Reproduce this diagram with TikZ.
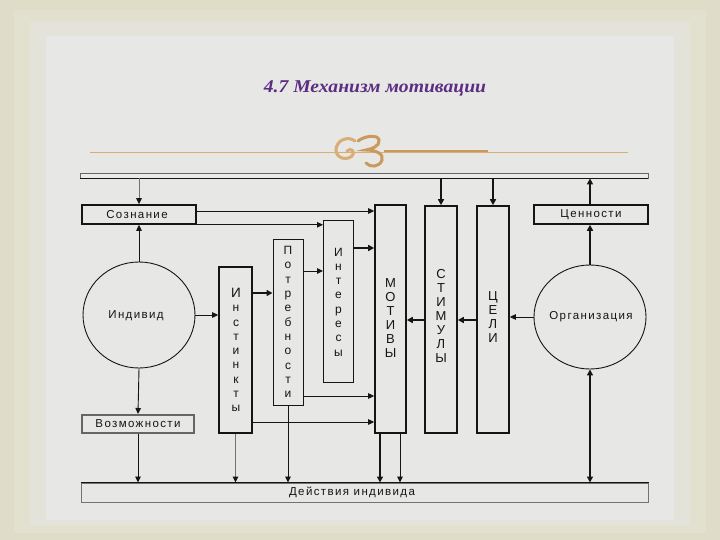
\documentclass[tikz,border=0pt]{standalone}
\usepackage{fontspec}
\setmainfont{Liberation Serif}
\newfontfamily\dfont[LetterSpace=12]{Liberation Sans}
\newfontfamily\sfont{Liberation Sans}
\usetikzlibrary{arrows.meta,shapes.geometric}
\definecolor{bgA}{HTML}{DFDCC8}
\definecolor{bgB}{HTML}{E2E0CF}
\definecolor{bgC}{HTML}{E4E3D9}
\definecolor{bgD}{HTML}{E7E7E5}
\definecolor{ttl}{HTML}{5C2D82}
\definecolor{gold}{HTML}{D8AE74}
\definecolor{golddk}{HTML}{C99A5C}
\definecolor{ink}{HTML}{151515}
\tikzset{
  box/.style={draw=ink, line width=1.6pt, inner sep=0pt, rectangle},
  thinbox/.style={draw=ink, line width=1pt, inner sep=0pt, rectangle},
  oval/.style={draw=ink, line width=0.9pt, ellipse, inner sep=0pt},
  lbl/.style={font=\dfont\fontsize{11.5}{13}\selectfont, text=ink, inner sep=0pt},
  stk/.style={font=\dfont\fontsize{12}{14.3}\selectfont, align=center, text=ink, inner sep=0pt},
  stkU/.style={font=\sfont\fontsize{13}{13.9}\selectfont, align=center, text=ink, inner sep=0pt},
  arr/.style={draw=ink, line width=0.9pt, -{Triangle[length=6pt,width=5.5pt]}},
  garr/.style={draw=black!55, line width=1pt, -{Triangle[length=6pt,width=5.5pt,color=ink]}},
  tarr/.style={draw=ink, line width=2pt, -{Triangle[length=6pt,width=6pt]}},
  barr/.style={draw=ink, line width=1.6pt, -{Triangle[length=6pt,width=6pt]}},
  dbl/.style={draw=ink, line width=1.4pt, {Triangle[length=6pt,width=6pt]}-{Triangle[length=6pt,width=6pt]}}
}
\begin{document}
\begin{tikzpicture}[x=1pt,y=-1pt]
\useasboundingbox (0,0) rectangle (720,540);
% background frame
\fill[bgA] (0,0) rectangle (720,540);
\fill[bgB] (14,10) rectangle (706,533);
\fill[bgC] (30,22) rectangle (690,526);
\fill[bgD] (46,36) rectangle (674,520);
% title
\node[font=\itshape\bfseries\fontsize{18}{20}\selectfont, text=ttl, inner sep=0pt] (title) at (375,88) {\scalebox{1.09}[1]{4.7 Механизм мотивации}};
% ornament line
\draw[gold, line width=0.8pt] (90,152.5) -- (628,152.5);
\draw[golddk, line width=1.6pt] (384,151) -- (488,151);
\draw[gold, line width=3pt, line cap=round]
  (355,141) .. controls (347,135) and (336,141) .. (336,150)
  .. controls (336,158) and (346,161) .. (352,156)
  .. controls (356,152) and (351,147) .. (347,151);
\draw[golddk, line width=3pt, line cap=round]
  (358,141) .. controls (364,136) and (378,134) .. (379,140)
  .. controls (380,146) and (372,149) .. (366,150)
  .. controls (376,150) and (384,154) .. (382,160)
  .. controls (380,167) and (370,168) .. (366,163);
% bars
\node[draw=black!60, fill=black!8, line width=0.8pt, minimum width=568pt, minimum height=5pt, inner sep=0pt] (tb) at (364,175.5) {};
\draw[ink, line width=1pt] (tb.south west) -- (tb.south east);
\node[draw=black!55, line width=1pt, minimum width=567pt, minimum height=19pt, inner sep=0pt] (bb) at (364.5,492.5) {};
\draw[ink, line width=1.8pt] (bb.north west) -- (bb.north east);
% left boxes
\node[box, minimum width=114pt, minimum height=19pt] (soz) at (139,214.5) {};
\node[lbl] at (137,214.5) {Сознание};
\node[oval, minimum width=112pt, minimum height=106pt] (ind) at (139,315) {};
\node[lbl] at (136,316) {Индивид};
\node[draw=black!60, line width=2pt, minimum width=112pt, minimum height=18pt, inner sep=0pt] (voz) at (138,424) {};
\node[lbl] at (138,424) {Возможности};
% columns
\node[box, minimum width=33pt, minimum height=166pt] (inst) at (235.5,350) {};
\node[stk] at (236,350) {{\fontsize{13.5}{14.3}\selectfont И}\\н\\с\\т\\и\\н\\к\\т\\ы};
\node[thinbox, minimum width=30pt, minimum height=166pt] (potr) at (288,322) {};
\node[stk] at (288,322) {П\\о\\т\\р\\е\\б\\н\\о\\с\\т\\и};
\node[thinbox, minimum width=30pt, minimum height=161pt] (inter) at (338.5,301.5) {};
\node[stk] at (338.5,302) {И\\н\\т\\е\\р\\е\\с\\ы};
\node[box, minimum width=31pt, minimum height=228pt] (mot) at (390.5,319) {};
\node[stkU] at (390.5,318) {М\\О\\Т\\И\\В\\Ы};
\node[box, minimum width=32pt, minimum height=227pt] (stim) at (441,319.5) {};
\node[stkU] at (441,316) {С\\Т\\И\\М\\У\\Л\\Ы};
\node[box, minimum width=32pt, minimum height=227pt] (celi) at (493,319.5) {};
\node[stkU] at (493,317) {Ц\\Е\\Л\\И};
% right side
\node[box, minimum width=114pt, minimum height=19pt] (cen) at (591,214.5) {};
\node[lbl] at (591,214.5) {Ценности};
\node[oval, minimum width=112pt, minimum height=104pt] (org) at (590,317) {};
\node[lbl] at (591,317) {Организация};
\node[lbl] at (352,492.5) {Действия индивида};
% connectors
\draw[garr] (tb.south -| soz.north) -- (soz.north);
\draw[arr] (soz.east |- 0,211) -- (mot.west |- 0,211);
\draw[arr] (soz.south east) -- (inter.west |- soz.south east);
\draw[arr] (ind.north) -- (soz.south);
\draw[arr] (ind.south) -- (voz.north);
\draw[arr] (voz.south) -- (bb.north -| voz.south);
\draw[arr] (ind.east) -- (inst.west |- ind.east);
\draw[tarr] (inst.east |- 0,293) -- (potr.west |- 0,293);
\draw[arr] (potr.east |- 0,271) -- (inter.west |- 0,271);
\draw[tarr] (inter.east |- 0,248) -- (mot.west |- 0,248);
\draw[arr] (potr.east |- 0,396) -- (mot.west |- 0,396);
\draw[arr] (inst.east |- 0,422) -- (mot.west |- 0,422);
\draw[garr] (inst.south) -- (bb.north -| inst.south);
\draw[arr] (potr.south) -- (bb.north -| potr.south);
\draw[barr] (mot.south -| 380,0) -- (bb.north -| 380,0);
\draw[arr] (mot.south -| 400,0) -- (bb.north -| 400,0);
\draw[barr] (tb.south -| stim.north) -- (stim.north);
\draw[barr] (tb.south -| celi.north) -- (celi.north);
\draw[tarr] (celi.west |- 0,320) -- (stim.east |- 0,320);
\draw[tarr] (stim.west |- 0,320) -- (mot.east |- 0,320);
\draw[arr] (org.west) -- (celi.east |- org.west);
\draw[barr] (org.north) -- (cen.south -| org.north);
\draw[barr] (cen.north -| org.north) -- (tb.south -| org.north);
\draw[dbl] (org.south) -- (bb.north -| org.south);
\end{tikzpicture}
\end{document}
